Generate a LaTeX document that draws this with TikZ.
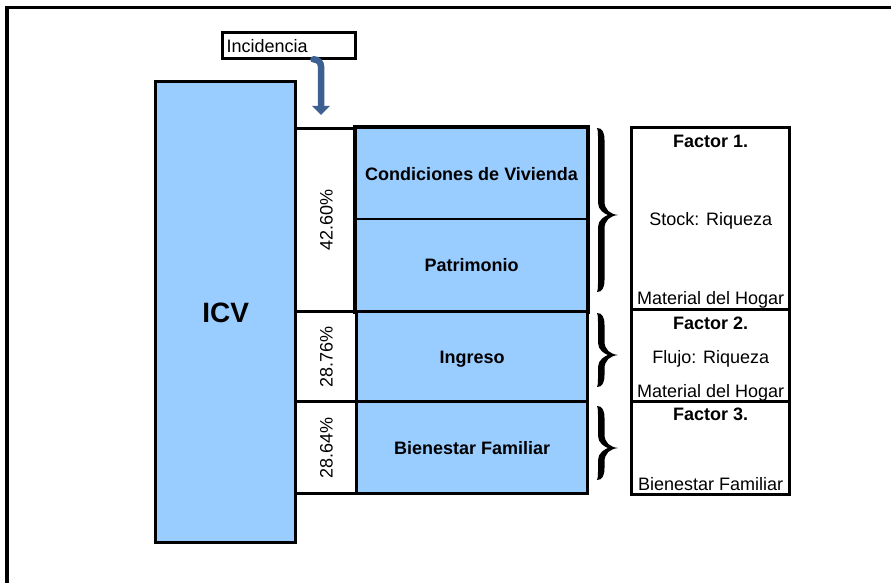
\documentclass[tikz,border=0pt]{standalone}
\usepackage{fontspec}
\setmainfont{Liberation Sans}
\usetikzlibrary{arrows.meta,calc}
\definecolor{cellblue}{RGB}{153,204,255}
\definecolor{arrowblue}{RGB}{59,96,145}
\newcommand\myBrace[4]{% x0, ytop, ybot, ytip
 \fill[bracefill] (#1,#2) .. controls (#1+5,#2) and (#1+7.5,#2+4) .. (#1+7.5,#2+12)
  -- (#1+7.5,#4-14) .. controls (#1+7.5,#4-5) and (#1+13,#4-1) .. (#1+21,#4)
  .. controls (#1+13,#4+1) and (#1+7.5,#4+5) .. (#1+7.5,#4+14)
  -- (#1+7.5,#3-12) .. controls (#1+7.5,#3-4) and (#1+5,#3) .. (#1,#3)
  .. controls (#1+1,#3-2) and (#1+1,#3-6) .. (#1+1,#3-10)
  -- (#1+1,#4+12) .. controls (#1+1,#4+5) and (#1+8,#4+1) .. (#1+11,#4)
  .. controls (#1+8,#4-1) and (#1+1,#4-5) .. (#1+1,#4-12)
  -- (#1+1,#2+10) .. controls (#1+1,#2+6) and (#1+1,#2+2) .. (#1,#2) -- cycle;}
\begin{document}
\begin{tikzpicture}[x=1pt,y=-1pt,
  every node/.style={font=\fontsize{18}{21}\selectfont, inner sep=0pt},
  frameline/.style={line width=3.4pt},
  box/.style={draw, line width=3.4pt, rectangle, inner sep=0pt},
  bluebox/.style={box, fill=cellblue},
  captxt/.style={text height=12.9pt, text depth=0pt},
  boldtxt/.style={font=\fontsize{18}{21}\selectfont\bfseries},
  incarrow/.style={draw=arrowblue, line width=6.5pt, rounded corners=7pt, line cap=round, -{Triangle[width=17pt,length=9pt]}},
  bracefill/.style={fill=black}]
\useasboundingbox (0,0) rectangle (891,583);
\draw[frameline] (7,583) -- (7,7.5) -- (891,7.5);
% Incidencia
\node[box, captxt, minimum width=133pt, minimum height=26pt, anchor=north west, text width=125pt, align=left, inner xsep=4pt] (inc) at (221,31) {Incidencia};
% ICV
\node[bluebox, minimum width=140pt, minimum height=461pt, anchor=north west, font=\fontsize{28}{32}\selectfont\bfseries, text height=20pt, text depth=0pt] (icv) at (154,80) {ICV};
% percent boxes
\node[box, fill=white, minimum width=61pt, minimum height=183pt, anchor=north west] (p1) at (294,127) {};
\node[box, fill=white, minimum width=61pt, minimum height=90pt, anchor=north west] (p2) at (294,310) {};
\node[box, fill=white, minimum width=61pt, minimum height=92pt, anchor=north west] (p3) at (294,400) {};
\node[captxt, rotate=90] (p1t) at (p1.center) {42.60\%};
\node[captxt, rotate=90] (p2t) at (p2.center) {28.76\%};
\node[captxt, rotate=90] (p3t) at (p3.center) {28.64\%};
% blue cells
\node[bluebox, line width=2.2pt, boldtxt, captxt, minimum width=231pt, minimum height=91pt, anchor=north west] (cond) at (355,127) {Condiciones de Vivienda};
\node[bluebox, line width=2.2pt, boldtxt, captxt, minimum width=231pt, minimum height=92pt, anchor=north west] (patr) at (355,218) {Patrimonio};
\draw[line width=3.4pt] (cond.north west) rectangle (patr.south east);
\node[bluebox, boldtxt, captxt, minimum width=231pt, minimum height=90pt, anchor=north west] (ing) at (355,310) {Ingreso};
\node[bluebox, boldtxt, captxt, minimum width=231pt, minimum height=92pt, anchor=north west] (bien) at (355,400) {Bienestar Familiar};
% braces
\myBrace{597}{128}{292}{215}
\myBrace{597}{313}{387}{355}
\myBrace{597}{406}{480}{448}
% factor boxes
\node[box, minimum width=158pt, minimum height=182pt, anchor=north west] (f1) at (630,126) {};
\node[box, minimum width=158pt, minimum height=92pt, anchor=north west] (f2) at (630,308) {};
\node[box, minimum width=158pt, minimum height=93pt, anchor=north west] (f3) at (630,400) {};
\node[boldtxt, anchor=base] (f1a) at ($(f1.north)+(0,21)$) {Factor 1.};
\node[anchor=base] (f1b) at ($(f1.center)+(0,7)$) {Stock: Riqueza};
\node[anchor=base] (f1c) at ($(f1.south)+(0,-7)$) {Material del Hogar};
\node[boldtxt, anchor=base] (f2a) at ($(f2.north)+(0,21)$) {Factor 2.};
\node[anchor=base] (f2b) at ($(f2.center)+(0,8)$) {Flujo: Riqueza};
\node[anchor=base] (f2c) at ($(f2.south)+(0,-6)$) {Material del Hogar};
\node[boldtxt, anchor=base] (f3a) at ($(f3.north)+(0,20)$) {Factor 3.};
\node[anchor=base] (f3c) at ($(f3.south)+(0,-6)$) {Bienestar Familiar};
% arrow
\coordinate (tip) at (321,115);
\draw[incarrow] ($(inc.south east)+(-44,-1)$) -| (tip);
\end{tikzpicture}
\end{document}
